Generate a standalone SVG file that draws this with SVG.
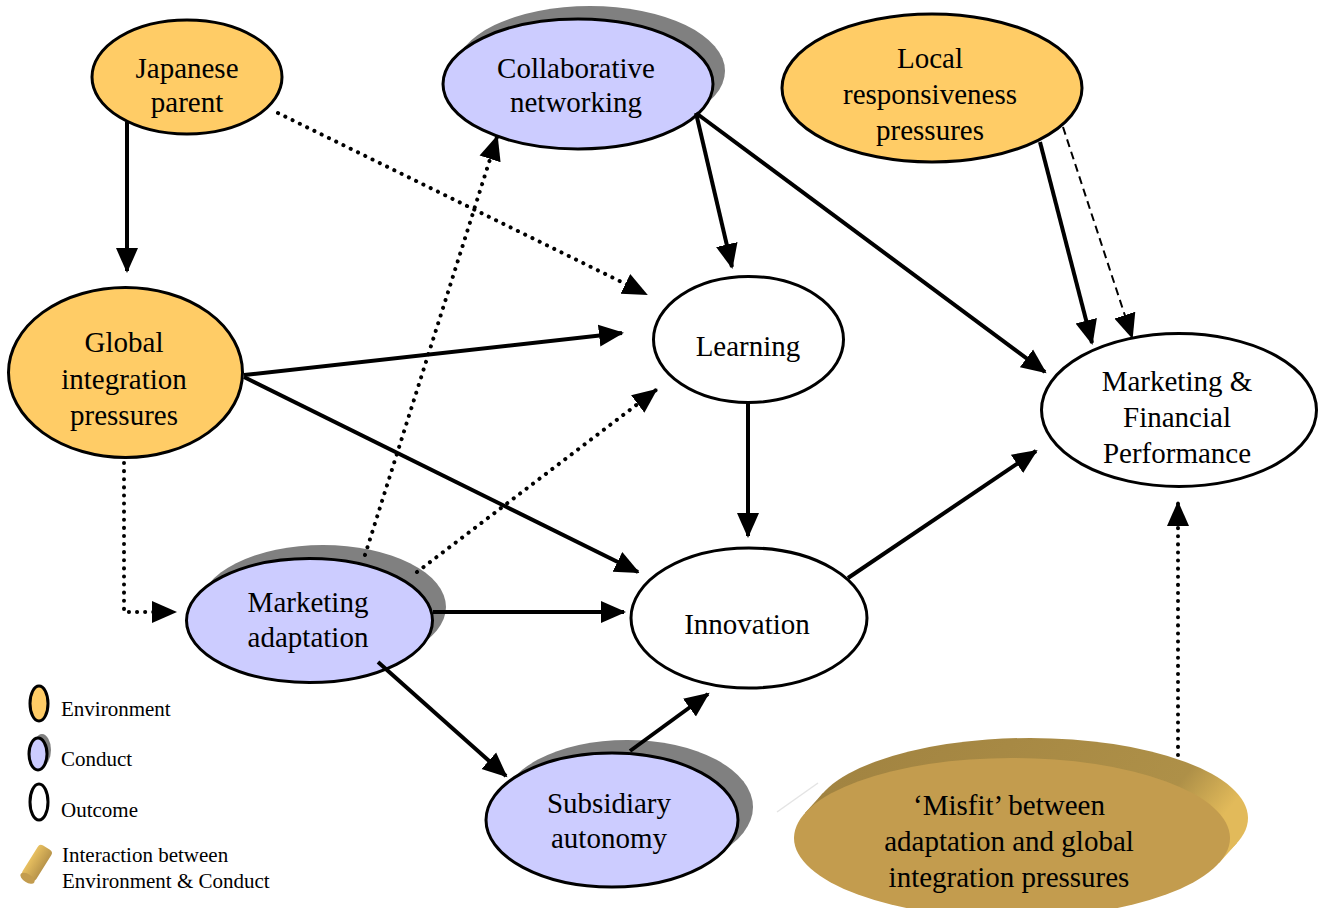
<svg xmlns="http://www.w3.org/2000/svg" width="1323" height="908" viewBox="0 0 1323 908">
<defs>
<style>
text{font-family:"Liberation Serif","Times New Roman",serif;fill:#000}
.t{font-size:29px;text-anchor:middle}
.lg{font-size:21px}
.env{fill:#FFCC66;stroke:#000;stroke-width:3}
.con{fill:#CCCCFF;stroke:#000;stroke-width:3}
.out{fill:#FFFFFF;stroke:#000;stroke-width:3}
.sh{fill:#808080}
.solid{stroke:#000;stroke-width:4;fill:none}
.dot{stroke:#000;stroke-width:4;fill:none;stroke-dasharray:0.1 8;stroke-linecap:round}
.dash{stroke:#000;stroke-width:2;fill:none;stroke-dasharray:8 5}
</style>
<marker id="ah" markerUnits="userSpaceOnUse" markerWidth="26" markerHeight="24" viewBox="0 0 26 24" refX="23" refY="12" orient="auto">
<path d="M0,1 L25,12 L0,23 z" fill="#000"/>
</marker>
<linearGradient id="side" x1="0" y1="0" x2="1" y2="0.3">
<stop offset="0" stop-color="#A08240"/>
<stop offset="0.85" stop-color="#AE9048"/>
<stop offset="1" stop-color="#E2BA5A"/>
</linearGradient>
<linearGradient id="cyl" x1="0" y1="0" x2="0" y2="1">
<stop offset="0" stop-color="#E8C060"/>
<stop offset="1" stop-color="#B8944A"/>
</linearGradient>
</defs>

<g id="node-japanese-parent">
<ellipse class="env" cx="187" cy="77" rx="95" ry="57"/>
<text class="t" x="187" y="78">Japanese</text>
<text class="t" x="187" y="112">parent</text>
</g>

<g id="node-collaborative-networking">
<ellipse class="sh" cx="590" cy="71" rx="135" ry="65"/>
<ellipse class="con" cx="578" cy="84" rx="135" ry="65"/>
<text class="t" x="576" y="78">Collaborative</text>
<text class="t" x="576" y="112">networking</text>
</g>

<g id="node-local-responsiveness">
<ellipse class="env" cx="932" cy="88" rx="150" ry="74"/>
<text class="t" x="930" y="68">Local</text>
<text class="t" x="930" y="104">responsiveness</text>
<text class="t" x="930" y="140">pressures</text>
</g>

<g id="node-global-integration">
<ellipse class="env" cx="125.5" cy="372.5" rx="117" ry="85"/>
<text class="t" x="124" y="352">Global</text>
<text class="t" x="124" y="389">integration</text>
<text class="t" x="124" y="425">pressures</text>
</g>

<g id="node-learning">
<ellipse class="out" cx="748.5" cy="339.5" rx="95" ry="63"/>
<text class="t" x="748" y="356">Learning</text>
</g>

<g id="node-marketing-financial">
<ellipse class="out" cx="1179" cy="410" rx="137.5" ry="76.5"/>
<text class="t" x="1177" y="391">Marketing &amp;</text>
<text class="t" x="1177" y="427">Financial</text>
<text class="t" x="1177" y="463">Performance</text>
</g>

<g id="node-marketing-adaptation">
<ellipse class="sh" cx="323" cy="607" rx="123" ry="62"/>
<ellipse class="con" cx="309.5" cy="620.5" rx="123" ry="62"/>
<text class="t" x="308" y="612">Marketing</text>
<text class="t" x="308" y="647">adaptation</text>
</g>

<g id="node-innovation">
<ellipse class="out" cx="749" cy="618" rx="118" ry="70"/>
<text class="t" x="747" y="634">Innovation</text>
</g>

<g id="node-subsidiary-autonomy">
<ellipse class="sh" cx="627" cy="807" rx="126" ry="67"/>
<ellipse class="con" cx="612" cy="820" rx="126" ry="67"/>
<text class="t" x="609" y="813">Subsidiary</text>
<text class="t" x="609" y="848">autonomy</text>
</g>

<g id="node-misfit">
<line x1="777" y1="812" x2="818" y2="783" stroke="#E4E4E4" stroke-width="1.5"/>
<ellipse cx="1030" cy="818" rx="218" ry="80" fill="url(#side)"/>
<path d="M805,813 L823,793 L1237,843 L1219,863 z" fill="url(#side)"/>
<ellipse cx="1012" cy="838" rx="218" ry="80" fill="#C39C4E"/>
<text class="t" x="1009" y="815">‘Misfit’ between</text>
<text class="t" x="1009" y="851">adaptation and global</text>
<text class="t" x="1009" y="887">integration pressures</text>
</g>

<g id="connectors">
<line class="solid" x1="127" y1="122" x2="127" y2="271" marker-end="url(#ah)"/>
<line class="dot" x1="278" y1="113" x2="646" y2="294" marker-end="url(#ah)"/>
<line class="solid" x1="244" y1="375" x2="622" y2="333" marker-end="url(#ah)"/>
<line class="solid" x1="244" y1="377" x2="638" y2="572" marker-end="url(#ah)"/>
<polyline class="dot" points="124,463 124,612 175,612" marker-end="url(#ah)"/>
<line class="solid" x1="696" y1="113" x2="732" y2="267" marker-end="url(#ah)"/>
<line class="solid" x1="696" y1="113" x2="1045" y2="372" marker-end="url(#ah)"/>
<line class="solid" x1="1040" y1="142" x2="1092" y2="343" marker-end="url(#ah)"/>
<line class="dash" x1="1063" y1="127" x2="1132" y2="337" marker-end="url(#ah)"/>
<line class="solid" x1="748" y1="403" x2="748" y2="536" marker-end="url(#ah)"/>
<line class="solid" x1="848" y1="578" x2="1036" y2="451" marker-end="url(#ah)"/>
<line class="dot" x1="365" y1="555" x2="497" y2="137" marker-end="url(#ah)"/>
<line class="dot" x1="417" y1="572" x2="656" y2="390" marker-end="url(#ah)"/>
<line class="solid" x1="433" y1="612" x2="624" y2="612" marker-end="url(#ah)"/>
<line class="solid" x1="378" y1="662" x2="506" y2="776" marker-end="url(#ah)"/>
<line class="solid" x1="630" y1="751" x2="708" y2="694" marker-end="url(#ah)"/>
<line class="dot" x1="1178" y1="755" x2="1178" y2="503" marker-end="url(#ah)"/>
</g>

<g id="legend">
<ellipse class="env" cx="39" cy="703.5" rx="9" ry="17.5"/>
<text class="lg" x="61" y="716">Environment</text>
<ellipse class="sh" cx="42" cy="750" rx="9" ry="16"/>
<ellipse class="con" cx="38" cy="754" rx="9" ry="16"/>
<text class="lg" x="61" y="766">Conduct</text>
<ellipse class="out" cx="39" cy="802" rx="9" ry="18"/>
<text class="lg" x="61" y="817">Outcome</text>
<g transform="translate(37,863) rotate(-58)">
<rect x="-18" y="-8" width="36" height="16" rx="4" fill="url(#cyl)"/>
<ellipse cx="-18" cy="0" rx="4" ry="8" fill="#C39C4E"/>
</g>
<text class="lg" x="62" y="862">Interaction between</text>
<text class="lg" x="62" y="888">Environment &amp; Conduct</text>
</g>
</svg>
